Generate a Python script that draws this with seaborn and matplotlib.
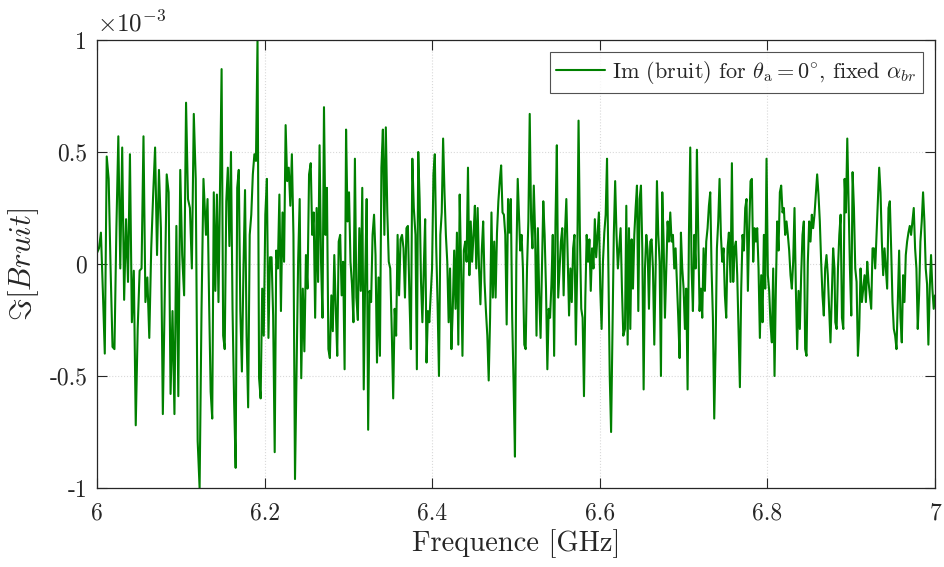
import numpy as np
import pandas as pd
import matplotlib
matplotlib.use("Agg")
import matplotlib.pyplot as plt
import seaborn as sns

# Valeurs (unites de 1e-3), par tranches de frequence
seg_edges = [(6.000, 6.127), (6.130, 6.253), (6.255, 6.378), (6.380, 6.502),
             (6.505, 6.628), (6.630, 6.754), (6.756, 6.880), (6.881, 7.000)]

seg1 = [0.05, 0.07, 0.14, -0.12, -0.40, 0.48, 0.38, -0.02, -0.37, -0.38, 0.16, 0.57, -0.02, 0.52,
        -0.16, 0.20, -0.08, 0.49, -0.26, -0.03, -0.72, -0.29, -0.03, -0.02, 0.57, -0.17, -0.06,
        -0.33, 0.07, 0.31, 0.52, 0.04, 0.42, 0.16, -0.67, -0.14, 0.40, 0.32, -0.58, -0.21, -0.67,
        0.17, -0.59, 0.42, 0.04, -0.14, 0.72, 0.29, 0.25, -0.02, 0.67, 0.38, -0.79, -1.0, -0.20,
        0.38]
seg2 = [0.13, 0.29, -0.17, -0.57, -0.69, 0.32, -0.12, 0.31, -0.17, 0.35, 0.87, -0.32, -0.38,
        0.28, 0.43, 0.08, 0.50, -0.20, -0.61, -0.91, 0.34, 0.42, -0.21, -0.48, -0.02, 0.33, -0.32,
        -0.64, 0.13, 0.22, 0.40, 0.49, 0.46, 1.0, -0.51, -0.60, -0.11, -0.32, 0.22, 0.38, -0.33,
        0.03, 0.03, -0.23, -0.84, 0.06, -0.02, 0.31, -0.21, 0.23, 0.01, 0.62, 0.37, 0.43, 0.26,
        0.49, 0.13, -0.96, -0.47, 0.01, 0.29, -0.51, -0.11, -0.39, 0.04, -0.11, 0.40]
seg3 = [0.45, 0.13, 0.23, -0.24, 0.25, -0.08, 0.53, 0.01, -0.24, 0.70, 0.13, 0.34, -0.38, -0.42,
        -0.14, -0.30, 0.04, -0.20, -0.41, 0.10, 0.13, -0.14, 0.01, -0.47, 0.60, 0.19, 0.32, 0.01,
        -0.09, -0.26, 0.47, -0.15, -0.25, 0.16, -0.12, 0.34, -0.56, -0.05, 0.29, -0.74, -0.12,
        -0.17, 0.13, 0.22, 0.04, -0.44, -0.06, -0.41, 0.43, 0.60, 0.13, 0.61, 0.23, 0.01, -0.02,
        -0.29, -0.60, -0.20, -0.32, 0.13, -0.14, 0.11, 0.13, 0.07, -0.15, 0.16, 0.17, -0.14, -0.38,
        0.47, 0.25]
seg4 = [0.13, -0.47, 0.50, 0.29, -0.08, -0.26, -0.02, 0.20, -0.44, -0.21, -0.26, -0.14, -0.02,
        0.40, 0.49, 0.08, -0.18, -0.50, 0.13, 0.23, 0.56, 0.32, 0.13, 0.01, -0.26, -0.02, -0.38,
        -0.20, 0.06, -0.20, 0.14, -0.36, 0.31, -0.02, -0.41, 0.06, 0.10, 0.01, 0.43, -0.05, 0.19,
        0.01, 0.13, 0.26, -0.02, 0.25, -0.02, -0.18, 0.06, 0.19, -0.08, -0.21, -0.32, -0.52, -0.24,
        0.23, -0.15, 0.10, -0.15, 0.14, 0.28, 0.37, 0.44, 0.23, 0.22, 0.13, -0.27, 0.29, 0.14, 0.29,
        -0.24, -0.53, -0.86, 0.01, 0.38]
seg5 = [0.06, 0.13, -0.02, -0.36, -0.38, -0.02, 0.19, 0.67, 0.20, 0.07, 0.35, 0.13, -0.32, 0.16,
        -0.14, -0.33, -0.02, 0.28, 0.13, -0.11, -0.47, -0.20, -0.24, -0.09, 0.13, -0.41, 0.19, 0.53,
        -0.15, -0.02, 0.10, 0.16, -0.14, 0.14, 0.29, 0.04, -0.23, -0.02, -0.17, 0.07, 0.13, -0.36,
        -0.02, 0.64, 0.13, -0.20, -0.24, -0.59, -0.15, 0.13, 0.01, 0.11, -0.12, 0.07, -0.02, 0.20,
        0.03, 0.13, 0.23, -0.11, -0.29, 0.01, 0.14, 0.22, 0.47, -0.02, -0.50, -0.75, -0.32, 0.13,
        0.37, 0.13, -0.02, 0.07, 0.16, -0.11, -0.32]
seg6 = [-0.29, 0.26, -0.36, 0.16, -0.29, 0.11, -0.11, 0.13, 0.25, 0.35, -0.21, 0.29, 0.35, 0.07,
        -0.56, -0.02, 0.13, 0.06, -0.20, 0.10, 0.11, -0.02, -0.36, -0.03, 0.37, 0.13, 0.01, -0.50,
        0.32, 0.10, -0.24, -0.02, 0.19, 0.10, 0.23, 0.10, 0.13, -0.02, 0.07, -0.08, -0.24, -0.42,
        0.14, -0.02, -0.11, -0.29, -0.11, -0.56, 0.13, 0.52, -0.02, -0.21, 0.13, -0.02, 0.51, 0.13,
        -0.21, -0.11, -0.24, 0.07, -0.12, 0.10, 0.16, 0.26, 0.32, -0.02, -0.24, -0.69, -0.38, 0.07,
        0.19, 0.38, 0.13, 0.01, 0.07, -0.14, -0.24, 0.07, 0.14]
seg7 = [-0.08, 0.45, -0.08, 0.07, 0.10, -0.05, -0.30, -0.55, -0.11, 0.13, 0.06, 0.25, 0.29, -0.12,
        0.16, 0.37, 0.38, 0.01, 0.16, 0.10, 0.16, -0.02, -0.33, -0.05, -0.26, 0.13, -0.11, 0.47,
        -0.05, -0.12, -0.27, -0.35, -0.02, -0.50, -0.11, 0.19, 0.06, 0.32, 0.35, 0.23, 0.25, 0.13,
        0.19, 0.13, 0.06, -0.05, -0.11, 0.01, 0.25, -0.11, -0.38, -0.12, -0.29, -0.05, 0.13, 0.19,
        -0.38, -0.41, 0.01, 0.19, 0.10, 0.22, 0.16, 0.22, 0.31, 0.40, 0.31, 0.19, 0.01, -0.14, -0.23,
        -0.02, 0.04, -0.05, -0.20, -0.35, -0.14, 0.07, -0.02]
seg8 = [-0.26, -0.29, -0.02, 0.13, 0.22, -0.24, -0.29, 0.38, 0.23, 0.56, 0.28, -0.02, -0.23, 0.41,
        0.25, -0.02, -0.08, -0.41, -0.29, -0.02, -0.17, -0.11, -0.05, -0.17, 0.01, -0.08, -0.14,
        -0.20, 0.07, 0.07, -0.02, 0.13, 0.28, 0.43, 0.32, 0.10, -0.05, 0.07, -0.02, -0.11, 0.25,
        0.28, 0.07, -0.17, -0.29, -0.32, -0.38, -0.17, 0.06, -0.24, -0.35, -0.05, -0.17, 0.04, 0.10,
        0.14, 0.17, 0.13, 0.19, 0.25, 0.07, -0.02, -0.29, -0.14, 0.10, 0.19, 0.32, 0.19, -0.02,
        -0.09, -0.36, -0.11, 0.04, -0.11, -0.20, -0.14]

segments = [seg1, seg2, seg3, seg4, seg5, seg6, seg7, seg8]

freq = np.concatenate([np.linspace(a, b, len(s)) for (a, b), s in zip(seg_edges, segments)])
im_bruit = np.concatenate([np.array(s) for s in segments])

legend_label = r'Im (bruit) for $\theta_{\mathrm{a}}=0^{\circ}$, fixed $\alpha_{br}$'
df = pd.DataFrame({"freq": freq, "val": im_bruit, "serie": legend_label})

sns.set_style("ticks")
plt.rcParams['font.family'] = ['cmr10', 'DejaVu Serif']
plt.rcParams['mathtext.fontset'] = 'cm'
plt.rcParams['axes.unicode_minus'] = False
plt.rcParams['axes.formatter.use_mathtext'] = True

fig = plt.figure(figsize=(9.44, 5.67), dpi=100)
ax = fig.add_axes([0.1028, 0.1393, 0.8877, 0.7902])

sns.lineplot(data=df, x="freq", y="val", hue="serie", palette=["#008000"],
             estimator=None, sort=False, linewidth=1.5, ax=ax)

ax.set_xlim(6, 7)
ax.set_ylim(-1, 1)
ax.set_xticks([6, 6.2, 6.4, 6.6, 6.8, 7])
ax.set_xticklabels(['6', '6.2', '6.4', '6.6', '6.8', '7'])
ax.set_yticks([-1, -0.5, 0, 0.5, 1])
ax.set_yticklabels(['-1', '-0.5', '0', '0.5', '1'])
ax.grid(True, linestyle=':', color='#d9d9d9', linewidth=0.8)
ax.tick_params(direction='in', top=True, right=True, length=7, width=0.8,
               labelsize=17, colors='#262626')
ax.tick_params(axis='x', pad=10)
ax.tick_params(axis='y', pad=7)
for s in ax.spines.values():
    s.set_color('#262626')
    s.set_linewidth(0.9)

ax.set_xlabel('Frequence [GHz]', fontsize=20.5, color='#262626', labelpad=4)
ax.set_ylabel(r'$\Im[Bruit]$', fontsize=22, color='#262626', labelpad=6)
ax.text(0.0, 1.008, r'$\times10^{-3}$', transform=ax.transAxes, ha='left', va='bottom',
        fontsize=18, color='#262626')

leg = ax.legend(loc='upper right', fontsize=16, frameon=True, fancybox=False,
                handlelength=2.2, borderpad=0.3, handletextpad=0.3, borderaxespad=0.55)
leg.get_frame().set_edgecolor('#262626')
leg.get_frame().set_linewidth(0.8)

fig.savefig('out.png', dpi=100)
